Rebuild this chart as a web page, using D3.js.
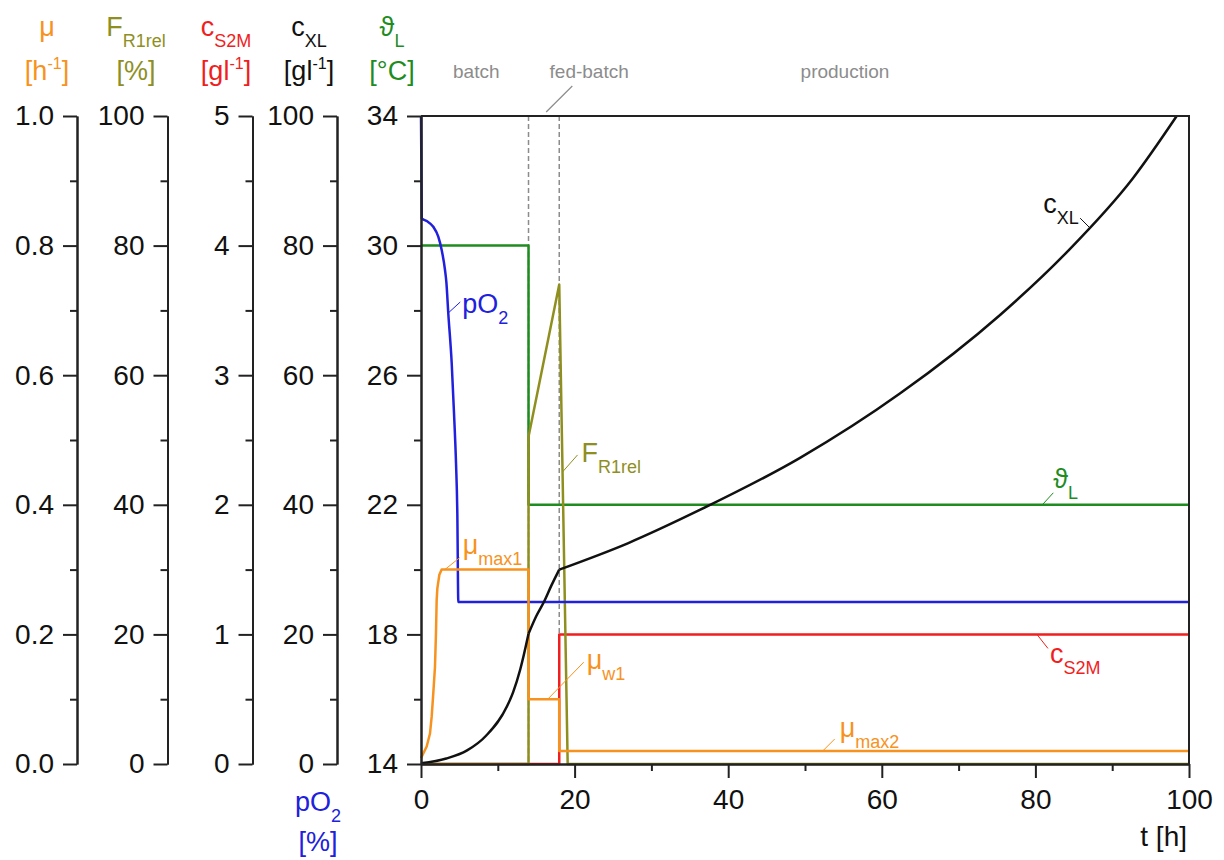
<!DOCTYPE html>
<html>
<head>
<meta charset="utf-8">
<script src="https://cdn.jsdelivr.net/npm/d3@7"></script>
<style>
  body { margin: 0; background: #fff; }
  text { font-family: "Liberation Sans", Arial, sans-serif; }
</style>
</head>
<body>
<div id="chart"></div>
<script>
// ===================================
// DATA
// ===================================

// time [h] / value pairs for each series
const pO2 = [[0, 100], [0.1, 84.2], [0.74, 83.8], [1.6, 82.9], [2.25, 81.4], [2.7, 79.3],
    [3.13, 76.2], [3.3, 74.4], [3.55, 69.6], [4.0, 61.8], [4.3, 54.1], [4.56, 46.4],
    [4.73, 38.7], [4.86, 25], [100, 25]];
const mu = [[0, 0.009], [0.74, 0.027], [1.17, 0.047], [1.39, 0.073], [1.6, 0.109], [1.82, 0.15],
    [1.95, 0.202], [2.04, 0.253], [2.13, 0.271], [2.39, 0.292], [2.69, 0.30],
    [14, 0.30], [14, 0.10], [18, 0.10], [18, 0.02], [100, 0.02]];
const cXL = [[0, 0.1], [3.3, 0.85], [6, 2.1], [8.5, 4.4], [11.2, 8.9], [12, 11.1], [12.9, 14.5],
    [13.4, 16.9], [14, 20.1], [15, 22.8], [16, 25], [17, 27.6], [18, 30], [27, 34.1],
    [36.3, 39.2], [49.3, 47.2], [62.4, 57.2], [75.4, 69.3], [84.1, 79.0],
    [92.7, 90.4], [98.4, 100]];
const cS2M = [[0, 0], [18, 0], [18, 1], [100, 1]];
const fR1rel = [[0, 0], [14, 0], [14, 50.5], [18, 74], [19.1, 0], [100, 0]];
const thetaL = [[0, 30], [14, 30], [14, 22], [100, 22]];

// phases
const phaseNames = ["batch", "fed-batch", "production"];
const phaseBounds = [14, 18];

// tick values
const muTicks = [0, 0.2, 0.4, 0.6, 0.8, 1.0];
const fTicks = [0, 20, 40, 60, 80, 100];
const cs2mTicks = [0, 1, 2, 3, 4, 5];
const cxlTicks = [0, 20, 40, 60, 80, 100];
const tempTicks = [14, 18, 22, 26, 30, 34];
const timeTicks = [0, 20, 40, 60, 80, 100];

// ===================================
// LAYOUT
// ===================================
const W = 1224, H = 860;
const plotLeft = 421, plotRight = 1189, plotTop = 116, plotBottom = 764;

const colors = {
    mu: "#f7921e",
    f: "#8f8f1f",
    cs2m: "#f01e1e",
    cxl: "#111111",
    theta: "#1f8c1f",
    pO2: "#2020dd",
    phase: "#8c8c8c",
    axis: "#222222"
};

const svg = d3.select("#chart").append("svg")
    .attr("width", W).attr("height", H)
    .style("background", "#fff");

// scales
const x = d3.scaleLinear().domain([0, 100]).range([plotLeft, plotRight]);
const yMu = d3.scaleLinear().domain([0, 1]).range([plotBottom, plotTop]);
const yF = d3.scaleLinear().domain([0, 100]).range([plotBottom, plotTop]);
const yCS = d3.scaleLinear().domain([0, 5]).range([plotBottom, plotTop]);
const yCX = d3.scaleLinear().domain([0, 100]).range([plotBottom, plotTop]);
const yPO2 = d3.scaleLinear().domain([0, 100]).range([plotBottom, plotTop]);
const yT = d3.scaleLinear().domain([14, 34]).range([plotBottom, plotTop]);

// minor ticks halfway between the major ones
function halves(ticks) {
    const out = [];
    for (let i = 0; i < ticks.length - 1; i++) out.push((ticks[i] + ticks[i + 1]) / 2);
    return out;
}

function styleAxis(g) {
    g.selectAll("path, line").attr("stroke", colors.axis).attr("stroke-width", 2);
    g.selectAll("text").attr("font-size", 28).attr("fill", "#111")
        .style("font-family", '"Liberation Sans", Arial, sans-serif');
}

// ===================================
// TEXT HELPER (main text + sub/superscripts)
// ===================================
function richText(parent, px, py, parts, color, anchor, size) {
    const t = parent.append("text")
        .attr("x", px).attr("y", py)
        .attr("fill", color)
        .attr("font-size", size || 27)
        .attr("text-anchor", anchor || "start");
    let shift = 0;
    parts.forEach(p => {
        const kind = p[0], str = p[1];
        let target = 0, fs = size || 27;
        if (kind === "sub") { target = 11; fs = 18; }
        if (kind === "sup") { target = -11; fs = 16; }
        t.append("tspan")
            .attr("dy", target - shift)
            .attr("font-size", fs)
            .text(str);
        shift = target;
    });
    return t;
}

// ===================================
// PHASES
// ===================================
svg.selectAll(".phase-line")
    .data(phaseBounds)
    .join("line")
    .attr("class", "phase-line")
    .attr("x1", d => x(d)).attr("x2", d => x(d))
    .attr("y1", plotTop).attr("y2", plotBottom)
    .attr("stroke", colors.phase)
    .attr("stroke-width", 1.5)
    .attr("stroke-dasharray", "5,3");

const phaseLabelT = [7.2, 21.9, 55.2];
svg.selectAll(".phase-label")
    .data(phaseNames)
    .join("text")
    .attr("class", "phase-label")
    .attr("x", (d, i) => x(phaseLabelT[i]))
    .attr("y", 78)
    .attr("text-anchor", "middle")
    .attr("font-size", 19)
    .attr("fill", colors.phase)
    .text(d => d);

// leader for "fed-batch"
svg.append("line")
    .attr("x1", x(16.3)).attr("y1", 112)
    .attr("x2", x(19.7)).attr("y2", 86)
    .attr("stroke", colors.phase).attr("stroke-width", 1.2);

// ===================================
// CURVES
// ===================================
const plot = svg.append("g");

function drawLine(data, yScale, color, curve) {
    plot.append("path")
        .datum(data)
        .attr("fill", "none")
        .attr("stroke", color)
        .attr("stroke-width", 2.5)
        .attr("stroke-linejoin", "round")
        .attr("d", d3.line()
            .x(d => x(d[0]))
            .y(d => yScale(d[1]))
            .curve(curve || d3.curveLinear));
}

drawLine(thetaL, yT, colors.theta);
drawLine(cS2M, yCS, colors.cs2m);
drawLine(fR1rel, yF, colors.f);
drawLine(pO2, yPO2, colors.pO2, d3.curveMonotoneX);
drawLine(mu, yMu, colors.mu);

// biomass curve has kinks at the phase bounds: draw each phase smoothly
const edges = [0].concat(phaseBounds, [100]);
for (let i = 0; i < edges.length - 1; i++) {
    const seg = cXL.filter(d => d[0] >= edges[i] && d[0] <= edges[i + 1]);
    drawLine(seg, yCX, colors.cxl, d3.curveMonotoneX);
}

// ===================================
// AXES (drawn over the curves)
// ===================================
const leftAxes = [
    { x: 77, scale: yMu, ticks: muTicks, fmt: d3.format(".1f") },
    { x: 167.5, scale: yF, ticks: fTicks, fmt: d3.format("d") },
    { x: 252.5, scale: yCS, ticks: cs2mTicks, fmt: d3.format("d") },
    { x: 337, scale: yCX, ticks: cxlTicks, fmt: d3.format("d") },
    { x: plotLeft, scale: yT, ticks: tempTicks, fmt: d3.format("d") }
];

leftAxes.forEach(a => {
    // minor ticks
    svg.append("g")
        .attr("transform", `translate(${a.x},0)`)
        .call(d3.axisLeft(a.scale).tickValues(halves(a.ticks)).tickSize(7).tickSizeOuter(0).tickFormat(""))
        .call(styleAxis);
    // major ticks with labels
    svg.append("g")
        .attr("transform", `translate(${a.x},0)`)
        .call(d3.axisLeft(a.scale).tickValues(a.ticks).tickSize(14).tickPadding(9)
            .tickSizeOuter(0).tickFormat(a.fmt))
        .call(styleAxis);
});

// x axis
svg.append("g")
    .attr("transform", `translate(0,${plotBottom})`)
    .call(d3.axisBottom(x).tickValues(halves(timeTicks)).tickSize(7).tickSizeOuter(0).tickFormat(""))
    .call(styleAxis);
svg.append("g")
    .attr("transform", `translate(0,${plotBottom})`)
    .call(d3.axisBottom(x).tickValues(timeTicks).tickSize(14).tickPadding(11)
        .tickSizeOuter(0).tickFormat(d3.format("d")))
    .call(styleAxis);

// frame (top and right)
svg.append("path")
    .attr("d", `M${plotLeft},${plotTop}H${plotRight}V${plotBottom}`)
    .attr("fill", "none")
    .attr("stroke", colors.axis)
    .attr("stroke-width", 2);

// ===================================
// AXIS HEADERS
// ===================================
const headers = [
    { cx: 47, color: colors.mu, row1: [["n", "μ"]], row2: [["n", "[h"], ["sup", "-1"], ["n", "]"]] },
    { cx: 136, color: colors.f, row1: [["n", "F"], ["sub", "R1rel"]], row2: [["n", "[%]"]] },
    { cx: 226, color: colors.cs2m, row1: [["n", "c"], ["sub", "S2M"]], row2: [["n", "[gl"], ["sup", "-1"], ["n", "]"]] },
    { cx: 309, color: colors.cxl, row1: [["n", "c"], ["sub", "XL"]], row2: [["n", "[gl"], ["sup", "-1"], ["n", "]"]] },
    { cx: 392, color: colors.theta, row1: [["n", "ϑ"], ["sub", "L"]], row2: [["n", "[°C]"]] }
];
headers.forEach(h => {
    richText(svg, h.cx, 36, h.row1, h.color, "middle");
    richText(svg, h.cx, 80, h.row2, h.color, "middle");
});

// pO2 header below the c_XL axis
richText(svg, 318, 811, [["n", "pO"], ["sub", "2"]], colors.pO2, "middle");
richText(svg, 318, 851, [["n", "[%]"]], colors.pO2, "middle");

// time axis title
richText(svg, plotRight - 2, 846, [["n", "t [h]"]], "#111", "end", 28);

// ===================================
// CURVE LABELS
// ===================================
function interp(series, t) {
    for (let i = 0; i < series.length - 1; i++) {
        const a = series[i], b = series[i + 1];
        if (t >= a[0] && t <= b[0] && b[0] > a[0]) {
            return a[1] + (b[1] - a[1]) * (t - a[0]) / (b[0] - a[0]);
        }
    }
    return series[series.length - 1][1];
}

const notes = [
    { series: pO2, scale: yPO2, t: 3.55, color: colors.pO2, lead: [12, -11], txt: [14, 0], parts: [["n", "pO"], ["sub", "2"]] },
    { series: mu, scale: yMu, t: 3.1, color: colors.mu, lead: [15, -12], txt: [18, -16], parts: [["n", "μ"], ["sub", "max1"]] },
    { series: mu, scale: yMu, t: 16.5, color: colors.mu, lead: [36, -37], txt: [39, -30], parts: [["n", "μ"], ["sub", "w1"]] },
    { series: fR1rel, scale: yF, t: 18.43, color: colors.f, lead: [15, -17], txt: [19, -10], parts: [["n", "F"], ["sub", "R1rel"]] },
    { series: thetaL, scale: yT, t: 80.9, color: colors.theta, lead: [11, -12], txt: [11, -17], parts: [["n", "ϑ"], ["sub", "L"]] },
    { series: cXL, scale: yCX, t: 87, color: colors.cxl, lead: [-9, -9], txt: [-46, -14], parts: [["n", "c"], ["sub", "XL"]] },
    { series: cS2M, scale: yCS, t: 80.2, color: colors.cs2m, lead: [11, 14], txt: [13, 29], parts: [["n", "c"], ["sub", "S2M"]] },
    { series: mu, scale: yMu, t: 52.3, color: colors.mu, lead: [12, -12], txt: [17, -14], parts: [["n", "μ"], ["sub", "max2"]] }
];

notes.forEach(n => {
    const ax = x(n.t), ay = n.scale(interp(n.series, n.t));
    svg.append("line")
        .attr("x1", ax).attr("y1", ay)
        .attr("x2", ax + n.lead[0]).attr("y2", ay + n.lead[1])
        .attr("stroke", n.color).attr("stroke-width", 1);
    richText(svg, ax + n.txt[0], ay + n.txt[1], n.parts, n.color, "start");
});
</script>
</body>
</html>
